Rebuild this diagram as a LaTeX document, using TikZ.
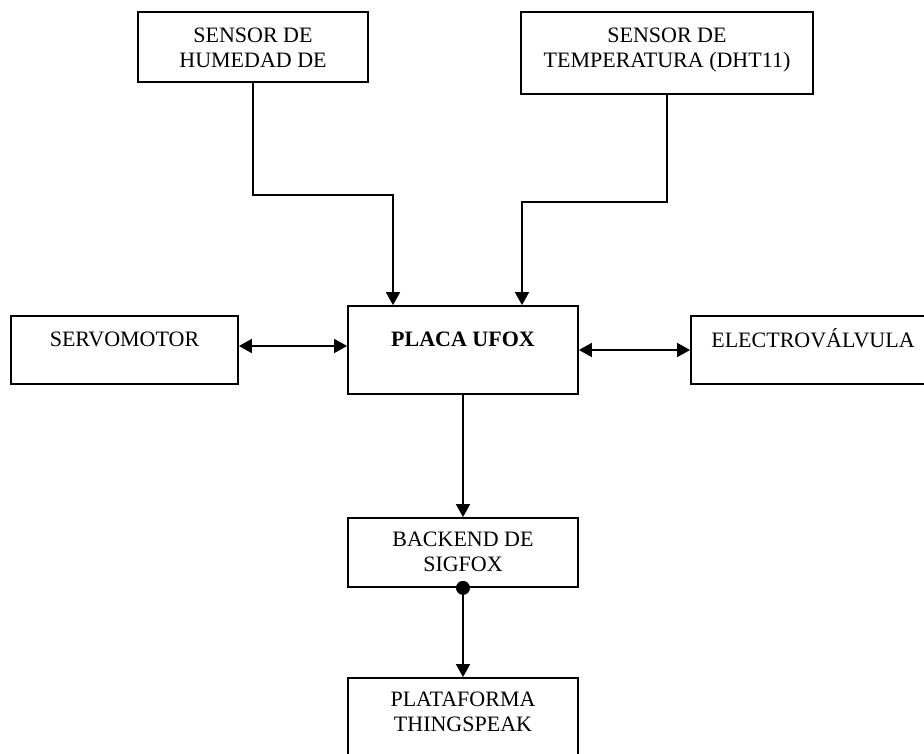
\documentclass[tikz,border=0pt]{standalone}
\usepackage{fontspec}
\setmainfont{Liberation Serif}
\usetikzlibrary{arrows.meta, positioning}
\tikzset{>={Triangle[length=13pt,width=14pt]}}
\tikzset{
	bloque/.style={draw, inner sep=0pt},
	rotulo/.style={inner sep=0pt, align=center, font=\fontsize{22}{25}\selectfont}
}

\begin{document}
\begin{tikzpicture}[x=1pt, y=-1pt, line width=1.8pt]
	\useasboundingbox (0,0) rectangle (924,753);
	
	\node[bloque, minimum width=230pt, minimum height=70pt, label={[rotulo, below=16pt]north:SENSOR DE\\HUMEDAD DE}] (hum) at (253,47) {};
	\node[bloque, minimum width=292pt, minimum height=82pt, label={[rotulo, below=16pt]north:SENSOR DE\\TEMPERATURA (DHT11)}] (temp) at (667,53) {};
	\node[bloque, minimum width=227pt, minimum height=68pt, label={[rotulo, below=16pt]north:SERVOMOTOR}] (servo) at (124.5,350) {};
	\node[bloque, minimum width=230pt, minimum height=88pt, label={[rotulo, below=26pt]north:\bfseries PLACA UFOX}] (placa) at (463,350) {};
	\node[bloque, minimum width=244pt, minimum height=68pt, label={[rotulo, text height=15pt, below=16pt]north:ELECTROVÁLVULA}] (valv) at (813,350) {};
	\node[bloque, minimum width=230pt, minimum height=69pt, label={[rotulo, below=14pt]north:BACKEND DE\\SIGFOX}] (back) at (463,552.5) {};
	\node[bloque, minimum width=230pt, minimum height=84pt, label={[rotulo, below=14pt]north:PLATAFORMA\\THINGSPEAK}] (plat) at (463,720) {};
	
	\draw[->] (hum.south) |- ++(140,112) -- ([xshift=-70pt]placa.north);
	\draw[->] (temp.south) |- ++(-145,107) -- ([xshift=59pt]placa.north);
	\draw[<->] ([yshift=4pt]servo.east) -- ([yshift=4pt]placa.west);
	\draw[<->] (placa.east) -- (valv.west);
	\draw[->] (placa.south) -- (back.north);
	\fill (back.south) circle (7pt);
	\draw[->] (back.south) -- (plat.north);
\end{tikzpicture}
\end{document}
